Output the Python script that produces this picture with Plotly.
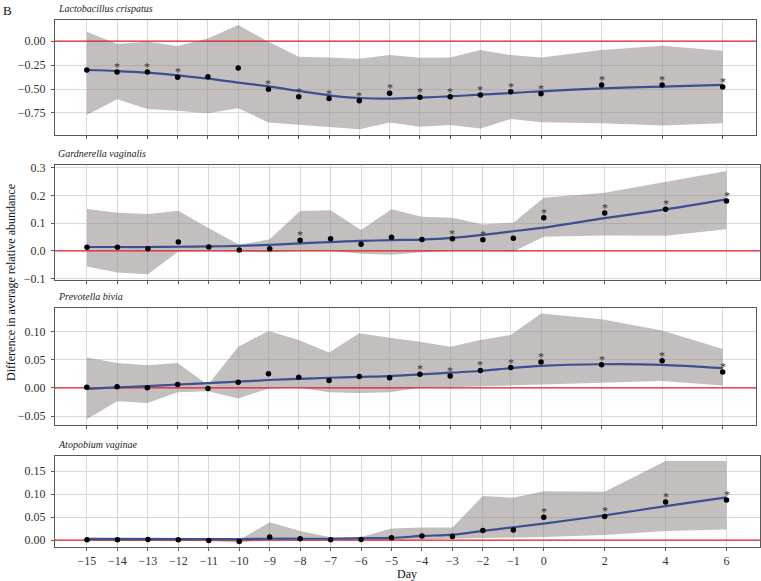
import plotly.graph_objects as go

days = [-15, -14, -13, -12, -11, -10, -9, -8, -7, -6, -5, -4, -3, -2, -1, 0, 2, 4, 6]

species = ["Lactobacillus crispatus", "Gardnerella vaginalis", "Prevotella bivia", "Atopobium vaginae"]

# Lactobacillus crispatus
pts1 = [-0.302, -0.323, -0.323, -0.378, -0.372, -0.281, -0.503, -0.580, -0.600, -0.622,
        -0.545, -0.587, -0.580, -0.563, -0.528, -0.549, -0.458, -0.458, -0.479]
fit1 = [-0.302, -0.313, -0.330, -0.358, -0.392, -0.434, -0.472, -0.521, -0.566, -0.594,
        -0.601, -0.590, -0.576, -0.559, -0.542, -0.524, -0.493, -0.476, -0.458]
lo1 = [-0.770, -0.607, -0.710, -0.726, -0.753, -0.700, -0.850, -0.875, -0.900, -0.920,
       -0.850, -0.893, -0.875, -0.913, -0.813, -0.847, -0.857, -0.882, -0.857]
up1 = [0.097, -0.031, -0.007, -0.052, 0.028, 0.167, -0.007, -0.163, -0.170, -0.184,
       -0.146, -0.174, -0.170, -0.094, -0.146, -0.170, -0.094, -0.049, -0.101]
star1 = [-14, -13, -12, -9, -8, -7, -6, -5, -4, -3, -2, -1, 0, 2, 4, 6]

# Gardnerella vaginalis
pts2 = [0.013, 0.013, 0.008, 0.032, 0.014, 0.003, 0.008, 0.038, 0.044, 0.024,
        0.049, 0.041, 0.044, 0.040, 0.046, 0.120, 0.137, 0.150, 0.180]
fit2 = [0.014, 0.014, 0.014, 0.015, 0.016, 0.018, 0.022, 0.027, 0.032, 0.036,
        0.039, 0.041, 0.047, 0.058, 0.071, 0.084, 0.118, 0.150, 0.186]
lo2 = [-0.056, -0.078, -0.084, -0.002, 0.000, -0.003, -0.005, 0.000, 0.000, -0.010,
       -0.014, -0.005, 0.000, 0.000, -0.002, 0.051, 0.056, 0.055, 0.078]
up2 = [0.151, 0.138, 0.133, 0.145, 0.082, 0.022, 0.042, 0.144, 0.147, 0.075,
       0.150, 0.123, 0.120, 0.095, 0.102, 0.192, 0.210, 0.249, 0.288]
star2 = [-8, -3, -2, 0, 2, 4, 6]

# Prevotella bivia
pts3 = [0.001, 0.002, 0.000, 0.006, -0.001, 0.010, 0.025, 0.019, 0.013, 0.020,
        0.018, 0.024, 0.021, 0.031, 0.036, 0.046, 0.041, 0.048, 0.028]
fit3 = [-0.002, 0.001, 0.003, 0.006, 0.0085, 0.011, 0.014, 0.016, 0.018, 0.0196,
        0.021, 0.024, 0.027, 0.030, 0.035, 0.039, 0.042, 0.041, 0.035]
lo3 = [-0.056, -0.024, -0.027, -0.008, -0.006, -0.019, -0.001, 0.000, -0.008, -0.009,
       -0.008, 0.000, 0.001, 0.003, 0.005, 0.006, 0.009, 0.012, 0.004]
up3 = [0.054, 0.044, 0.040, 0.044, 0.005, 0.073, 0.101, 0.085, 0.063, 0.097,
       0.089, 0.082, 0.073, 0.085, 0.094, 0.132, 0.122, 0.102, 0.069]
star3 = [-4, -3, -2, -1, 0, 2, 4, 6]

# Atopobium vaginae
pts4 = [0.001, 0.001, 0.0015, 0.001, -0.001, -0.003, 0.007, 0.003, 0.001, 0.0015,
        0.005, 0.009, 0.008, 0.021, 0.022, 0.050, 0.0515, 0.083, 0.087]
fit4 = [0.002, 0.002, 0.002, 0.002, 0.002, 0.002, 0.003, 0.003, 0.003, 0.004,
        0.005, 0.009, 0.012, 0.020, 0.028, 0.036, 0.054, 0.074, 0.093]
lo4 = [-0.001, -0.001, -0.001, -0.001, -0.002, -0.006, 0.0015, 0.0015, 0.000, 0.000,
       0.000, 0.0015, 0.0015, 0.004, 0.006, 0.007, 0.011, 0.020, 0.023]
up4 = [0.006, 0.006, 0.006, 0.005, 0.003, 0.000, 0.039, 0.020, 0.006, 0.007,
       0.025, 0.0275, 0.0275, 0.096, 0.092, 0.1065, 0.105, 0.172, 0.172]
star4 = [0, 2, 4, 6]

y_ranges = [[-0.98, 0.22], [-0.105, 0.31], [-0.066, 0.142], [-0.015, 0.183]]
y_dticks = [0.25, 0.1, 0.05, 0.05]
y_formats = [".2f", ".1f", ".2f", ".2f"]
x_range = [-16.05, 7.1]

W, H = 761, 581
panel_px = [(55, 756, 20, 135), (55, 760, 165, 280), (55, 756, 308, 425), (55, 760, 456, 547)]

FONT = "Liberation Serif"
RIBBON = "rgba(140,132,130,0.52)"
GRID = "#d9d9d9"
BORDER = "#595959"
BLUE = "#3b4f92"

series = [(pts1, fit1, lo1, up1, star1), (pts2, fit2, lo2, up2, star2),
          (pts3, fit3, lo3, up3, star3), (pts4, fit4, lo4, up4, star4)]

fig = go.Figure()
annotations = []
layout = {}

for i, (pts, fit, lo, up, stars) in enumerate(series):
    n = i + 1
    xa = "x" if n == 1 else f"x{n}"
    ya = "y" if n == 1 else f"y{n}"
    # ribbon
    fig.add_trace(go.Scatter(x=days, y=lo, xaxis=xa, yaxis=ya, mode="lines",
                             line=dict(width=0), hoverinfo="skip", showlegend=False))
    fig.add_trace(go.Scatter(x=days, y=up, xaxis=xa, yaxis=ya, mode="lines",
                             line=dict(width=0), fill="tonexty", fillcolor=RIBBON,
                             hoverinfo="skip", showlegend=False))
    # reference line at zero
    fig.add_trace(go.Scatter(x=x_range, y=[0, 0], xaxis=xa, yaxis=ya, mode="lines",
                             line=dict(color="#e4202a", width=1.2), hoverinfo="skip",
                             showlegend=False))
    # smooth fit
    fig.add_trace(go.Scatter(x=days, y=fit, xaxis=xa, yaxis=ya, mode="lines",
                             line=dict(color=BLUE, width=2.2, shape="spline", smoothing=0.8),
                             showlegend=False))
    # points
    fig.add_trace(go.Scatter(x=days, y=pts, xaxis=xa, yaxis=ya, mode="markers",
                             marker=dict(color="black", size=5.5), showlegend=False))
    # stars
    for d in stars:
        k = days.index(d)
        annotations.append(dict(x=d, y=pts[k], xref=xa, yref=ya, text="*",
                                showarrow=False, yshift=5,
                                font=dict(family=FONT, size=12, color="#333333")))

    x0, x1, t, b = panel_px[i]
    xkey = "xaxis" if n == 1 else f"xaxis{n}"
    ykey = "yaxis" if n == 1 else f"yaxis{n}"
    layout[xkey] = dict(
        domain=[x0 / W, x1 / W], range=x_range, anchor=ya,
        tickmode="array", tickvals=days, showticklabels=(n == 4),
        ticks="outside", ticklen=3, tickcolor=BORDER,
        showgrid=True, gridcolor=GRID, gridwidth=1, zeroline=False,
        showline=True, linecolor=BORDER, linewidth=1, mirror=True,
        tickfont=dict(family=FONT, size=12, color="#333333"), automargin=False,
    )
    layout[ykey] = dict(
        domain=[1 - b / H, 1 - t / H], range=y_ranges[i], anchor=xa,
        tick0=0, dtick=y_dticks[i], tickformat=y_formats[i],
        ticks="outside", ticklen=3, tickcolor=BORDER, ticklabelstandoff=3,
        showgrid=True, gridcolor=GRID, gridwidth=1, zeroline=False,
        showline=True, linecolor=BORDER, linewidth=1, mirror=True,
        tickfont=dict(family=FONT, size=12, color="#333333"), automargin=False,
    )
    annotations.append(dict(x=(x0 + 1) / W, y=1 - (t - 4) / H, xref="paper", yref="paper",
                            xanchor="left", yanchor="bottom", showarrow=False,
                            text=f"<i>{species[i]}</i>",
                            font=dict(family=FONT, size=10, color="#222222")))

annotations.append(dict(x=1 / W, y=1 - 1 / H, xref="paper", yref="paper",
                        xanchor="left", yanchor="top", showarrow=False, text="B",
                        font=dict(family=FONT, size=13, color="#111111")))
annotations.append(dict(x=407 / W, y=1 - 574 / H, xref="paper", yref="paper",
                        xanchor="center", yanchor="middle", showarrow=False, text="Day",
                        font=dict(family=FONT, size=12, color="#111111")))
annotations.append(dict(x=11 / W, y=1 - 283 / H, xref="paper", yref="paper",
                        xanchor="center", yanchor="middle", showarrow=False, textangle=-90,
                        text="Difference in average relative abundance",
                        font=dict(family=FONT, size=12, color="#111111")))

fig.update_layout(
    width=W, height=H,
    margin=dict(l=0, r=0, t=0, b=0),
    paper_bgcolor="white", plot_bgcolor="white",
    showlegend=False,
    font=dict(family=FONT),
    annotations=annotations,
    **layout,
)

fig.write_html("out.html", config={"displayModeBar": False},
               post_script="document.body.style.margin='0';document.body.style.overflow='hidden';")
